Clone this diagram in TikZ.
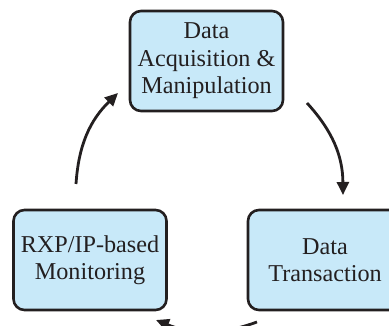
\documentclass[tikz,border=0pt]{standalone}
\usepackage{fontspec}
\setmainfont{Liberation Serif}
\usetikzlibrary{arrows.meta}
\definecolor{boxfill}{HTML}{C8E9F9}
\definecolor{ink}{HTML}{231F20}
\tikzset{
  procbox/.style={draw=ink, line width=2.6pt, fill=boxfill, rounded corners=11pt,
    minimum width=153pt, minimum height=100pt, align=center, text=ink,
    font=\fontsize{24.2}{27.5}\selectfont, inner sep=2pt},
  cyc/.style={draw=ink, line width=2.8pt, -{Triangle[length=13pt,width=12pt]}, bend left=21}
}
\begin{document}
\begin{tikzpicture}[x=1pt,y=-1pt]
\useasboundingbox (0,0) rectangle (389,326);
\node[procbox] (acq) at (206.5,61) {Data\\Acquisition \&\\Manipulation};
\node[procbox] (mon) at (90,260) {RXP/IP-based\\Monitoring};
\node[procbox, minimum width=154pt] (tra) at (325,260) {Data\\Transaction};
\coordinate (a1s) at (307,103);
\coordinate (a1e) at (343,195);
\coordinate (a2s) at (257,322);
\coordinate (a2e) at (156,320);
\coordinate (a3s) at (76,184);
\coordinate (a3e) at (118,93);
\draw[cyc] (a1s) to (a1e);
\draw[cyc] (a2s) to (a2e);
\draw[cyc] (a3s) to (a3e);
\end{tikzpicture}
\end{document}
